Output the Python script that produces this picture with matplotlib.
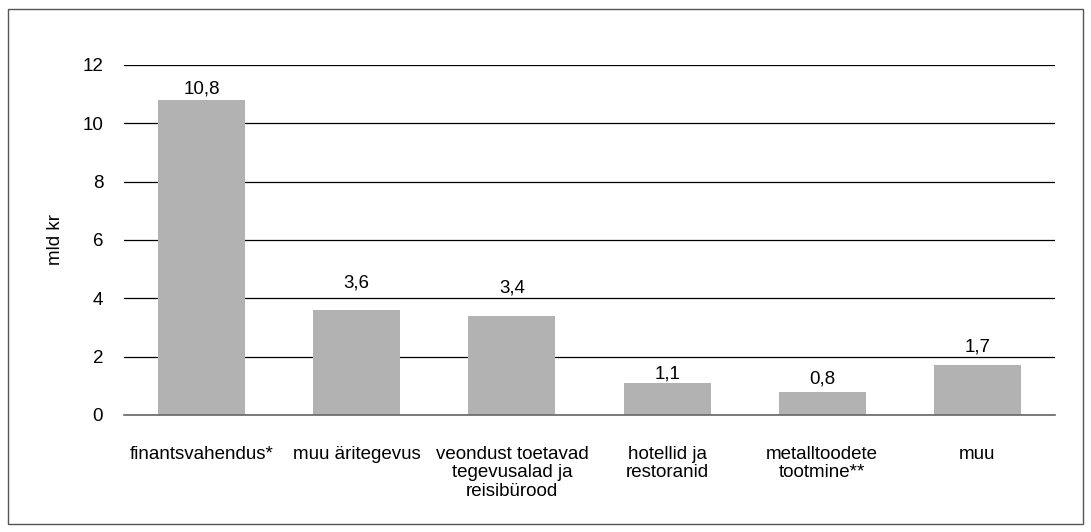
import matplotlib.pyplot as plt
import numpy as np

categories = ["finantsvahendus*", "muu äritegevus",
              "veondust toetavad\ntegevusalad ja\nreisibürood",
              "hotellid ja\nrestoranid", "metalltoodete\ntootmine**", "muu"]
values = [10.8, 3.6, 3.4, 1.1, 0.8, 1.7]
value_labels = ["10,8", "3,6", "3,4", "1,1", "0,8", "1,7"]
yticks = [0, 2, 4, 6, 8, 10, 12]

# how far (points) each value label sits above its bar, as in the original
label_gap = [1.5, 13, 14, 0.5, 3, 7]

plt.rcParams['font.family'] = ['Liberation Sans', 'DejaVu Sans']
FS = 13.5

fig = plt.figure(figsize=(10.91, 5.32), dpi=100)
ax = fig.add_axes([0.1137, 0.22, 0.8533, 0.658])

x = np.arange(len(categories))
ax.bar(x, values, width=0.56, color="#b2b2b2", zorder=2)

for xi, v, lab, g in zip(x, values, value_labels, label_gap):
    ax.annotate(lab, (xi, v), xytext=(0, g), textcoords="offset points",
                ha="center", va="bottom", fontsize=FS)

ax.set_xlim(-0.5, len(categories) - 0.5)
ax.set_ylim(0, 12)
ax.set_yticks(yticks)
ax.set_yticklabels([str(t) for t in yticks], fontsize=FS)
ax.yaxis.grid(True, color="black", linewidth=0.9, zorder=1)
ax.set_xticks(x)
ax.set_xticklabels(categories, fontsize=FS, va="top", linespacing=1.12)
ax.tick_params(axis="both", length=0)
ax.tick_params(axis="y", pad=15)
ax.tick_params(axis="x", pad=22)
for s in ["top", "right", "left"]:
    ax.spines[s].set_visible(False)
ax.spines["bottom"].set_color("#666666")
ax.spines["bottom"].set_linewidth(1.2)
ax.set_ylabel("mld kr", fontsize=FS, labelpad=13)

# frame round the whole figure
fig.patches.append(plt.Rectangle((0.0075, 0.015), 0.985, 0.969, transform=fig.transFigure,
                                 fill=False, edgecolor="#555555", linewidth=1.0))

fig.savefig("out.png", dpi=100)
